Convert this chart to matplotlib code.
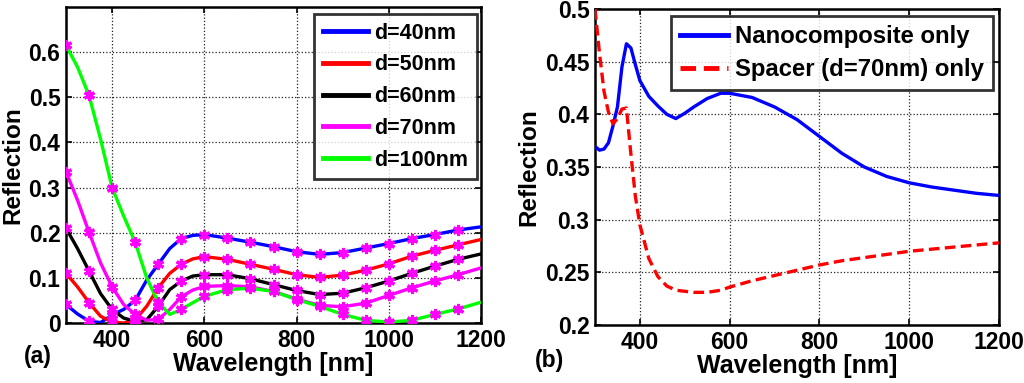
import matplotlib
matplotlib.use("Agg")
import matplotlib.pyplot as plt
from matplotlib.ticker import FixedLocator, FixedFormatter

plt.rcParams['font.family'] = ['Liberation Sans', 'DejaVu Sans']
plt.rcParams['font.weight'] = 'bold'

# ---------------- Panel (a) data ----------------
wl_a = [300, 325, 350, 375, 400, 425, 450, 475, 500, 525, 550, 575, 600,
        650, 700, 750, 800, 850, 900, 950, 1000, 1050, 1100, 1150, 1200]
r_d40 = [0.041, 0.020, 0.004, 0.001, 0.018, 0.030, 0.050, 0.095, 0.130, 0.165, 0.187, 0.194, 0.196,
         0.188, 0.179, 0.169, 0.158, 0.152, 0.156, 0.166, 0.176, 0.187, 0.196, 0.206, 0.213]
r_d50 = [0.110, 0.080, 0.045, 0.015, 0.002, 0.000, 0.007, 0.037, 0.078, 0.110, 0.130, 0.142, 0.147,
         0.141, 0.130, 0.119, 0.107, 0.101, 0.106, 0.117, 0.131, 0.148, 0.161, 0.173, 0.185]
r_d60 = [0.210, 0.165, 0.115, 0.065, 0.030, 0.011, 0.004, 0.007, 0.037, 0.074, 0.093, 0.104, 0.107,
         0.107, 0.098, 0.085, 0.072, 0.063, 0.066, 0.078, 0.093, 0.110, 0.126, 0.141, 0.153]
r_d70 = [0.335, 0.272, 0.201, 0.133, 0.080, 0.041, 0.019, 0.006, 0.008, 0.030, 0.058, 0.073, 0.081,
         0.083, 0.080, 0.070, 0.053, 0.039, 0.036, 0.044, 0.061, 0.078, 0.093, 0.107, 0.122]
r_d100 = [0.615, 0.567, 0.504, 0.407, 0.300, 0.237, 0.179, 0.100, 0.046, 0.019, 0.030, 0.045, 0.059,
          0.074, 0.077, 0.070, 0.052, 0.037, 0.019, 0.006, 0.002, 0.006, 0.019, 0.031, 0.046]
labels_a = ['d=40nm', 'd=50nm', 'd=60nm', 'd=70nm', 'd=100nm']
colors_a = ['#0000ff', '#ff0000', '#000000', '#ff00ff', '#00ff00']
yticks_a = [0, 0.1, 0.2, 0.3, 0.4, 0.5, 0.6]
yticklabels_a = ['0', '0.1', '0.2', '0.3', '0.4', '0.5', '0.6']

# ---------------- Panel (b) data ----------------
wl_b = [300, 310, 320, 330, 340, 350, 360, 370, 380, 390, 400, 420, 440, 460, 480, 500,
        520, 550, 580, 600, 650, 700, 750, 800, 850, 900, 950, 1000, 1050, 1100, 1150, 1200]
r_nano = [0.3695, 0.366, 0.367, 0.373, 0.389, 0.407, 0.445, 0.467, 0.463, 0.447, 0.432, 0.417,
          0.408, 0.400, 0.396, 0.401, 0.407, 0.415, 0.420, 0.420, 0.416, 0.407, 0.395, 0.379,
          0.363, 0.350, 0.341, 0.335, 0.331, 0.328, 0.325, 0.323]
r_spacer = [0.500, 0.458, 0.422, 0.402, 0.391, 0.396, 0.405, 0.406, 0.362, 0.322, 0.295, 0.263,
            0.246, 0.237, 0.233, 0.232, 0.231, 0.231, 0.233, 0.236, 0.242, 0.247, 0.252, 0.257,
            0.261, 0.264, 0.267, 0.270, 0.272, 0.274, 0.276, 0.278]
labels_b = ['Nanocomposite only', 'Spacer (d=70nm) only']
yticks_b = [0.2, 0.25, 0.3, 0.35, 0.4, 0.45, 0.5]
yticklabels_b = ['0.2', '0.25', '0.3', '0.35', '0.4', '0.45', '0.5']
xticks = [400, 600, 800, 1000, 1200]

fig = plt.figure(figsize=(10.24, 3.83), dpi=100)
ax1 = fig.add_axes([66/1024, 1-323/383, (481-66)/1024, (323-7)/383])
ax2 = fig.add_axes([595/1024, 1-325/383, (999-595)/1024, (325-9)/383])

mark_idx = [i for i, w in enumerate(wl_a) if w % 50 == 0 and w < 1200]
for ys, c, lab in zip([r_d40, r_d50, r_d60, r_d70, r_d100], colors_a, labels_a):
    ax1.plot(wl_a, ys, color=c, lw=2.4, label=lab, zorder=3)
for ys in [r_d40, r_d50, r_d60, r_d70, r_d100]:
    ax1.plot([wl_a[i] for i in mark_idx], [ys[i] for i in mark_idx], ls='none',
             marker=(6, 2, 0), ms=8, mew=2.2, color='#ff00ff', zorder=4)

ax2.plot(wl_b, r_nano, color='#0000ff', lw=2.4, label=labels_b[0], zorder=3)
ax2.plot(wl_b, r_spacer, color='#ff0000', lw=2.4, ls=(0, (3.2, 1.6)), label=labels_b[1], zorder=3)

for ax, yt, ytl, ylim in [(ax1, yticks_a, yticklabels_a, (0, 0.7)),
                          (ax2, yticks_b, yticklabels_b, (0.2, 0.5))]:
    ax.set_xlim(300, 1200)
    ax.set_ylim(*ylim)
    ax.xaxis.set_major_locator(FixedLocator(xticks))
    ax.yaxis.set_major_locator(FixedLocator(yt))
    ax.yaxis.set_major_formatter(FixedFormatter(ytl))
    ax.grid(True, color='#222222', ls=':', lw=0.9)
    ax.set_axisbelow(True)
    ax.tick_params(direction='in', length=4, width=1.2, labelsize=16.5, pad=4,
                   top=True, right=True)
    for lab in ax.get_xticklabels() + ax.get_yticklabels():
        lab.set_fontweight('bold')
    for s in ax.spines.values():
        s.set_linewidth(1.8)
    ax.set_xlabel('Wavelength [nm]', fontsize=18, fontweight='bold', labelpad=0)
    ax.set_ylabel('Reflection', fontsize=17.5, fontweight='bold', labelpad=3)

# extra horizontal grid line at 0.7 in panel (a)
ax1.axhline(0.7, color='#222222', ls=':', lw=0.9)

leg1 = ax1.legend(loc='upper right', bbox_to_anchor=(477/1024, 1-14/383),
                  bbox_transform=fig.transFigure, fontsize=15.5, frameon=True,
                  fancybox=False, edgecolor='black', handlelength=2.1,
                  handletextpad=0.3, labelspacing=0.5, borderpad=0.4,
                  borderaxespad=0)
leg1.get_frame().set_linewidth(2.0)
for l in leg1.get_lines():
    l.set_linewidth(3.5)

leg2 = ax2.legend(loc='upper right', bbox_to_anchor=(993/1024, 1-16/383),
                  bbox_transform=fig.transFigure, fontsize=17.2, frameon=True,
                  fancybox=False, edgecolor='black', handlelength=2.0,
                  handletextpad=0.3, labelspacing=0.42, borderpad=0.38,
                  borderaxespad=0)
leg2.get_frame().set_linewidth(2.0)
for l in leg2.get_lines():
    l.set_linewidth(3.5)

fig.text(38/1024, 1-357/383, '(a)', fontsize=16.5, fontweight='bold', ha='center', va='center')
fig.text(549/1024, 1-361/383, '(b)', fontsize=16.5, fontweight='bold', ha='center', va='center')

fig.savefig('out.png', dpi=100)
